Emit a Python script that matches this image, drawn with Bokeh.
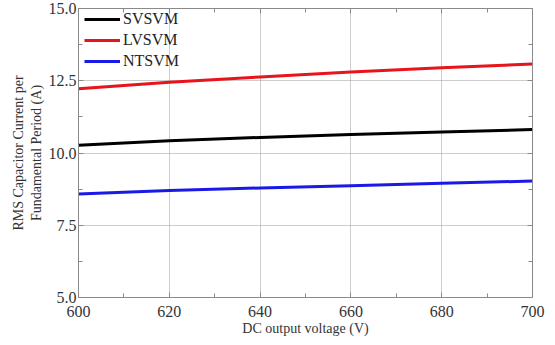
from bokeh.plotting import figure
from bokeh.models import (LinearAxis, FixedTicker, PrintfTickFormatter, Range1d, Legend,
                          LegendItem, CustomJSTickFormatter)
from bokeh.embed import file_html
from bokeh.resources import INLINE

voltage = [600, 620, 640, 660, 680, 700]
svsvm = [10.27, 10.42, 10.54, 10.64, 10.73, 10.81]
lvsvm = [12.22, 12.45, 12.63, 12.80, 12.95, 13.08]
ntsvm = [8.58, 8.70, 8.79, 8.87, 8.95, 9.03]

x_ticks = [600, 620, 640, 660, 680, 700]
x_minor = [610, 630, 650, 670, 690]
y_ticks = [5.0, 7.5, 10.0, 12.5, 15.0]
y_minor = [6.25, 8.75, 11.25, 13.75]

FONT = "Liberation Serif"
AX = "#8a8a8a"

p = figure(width=555, height=345, output_backend="svg", toolbar_location=None,
           x_range=Range1d(600, 700), y_range=Range1d(5, 15),
           min_border_left=78, min_border_right=23, min_border_top=8, min_border_bottom=48)
p.background_fill_color = "white"
p.border_fill_color = "white"
p.outline_line_color = AX

r1 = p.line(voltage, svsvm, color="black", line_width=3)
r2 = p.line(voltage, lvsvm, color="#e8141c", line_width=3)
r3 = p.line(voltage, ntsvm, color="#1a1ae6", line_width=3)

legend = Legend(items=[LegendItem(label="SVSVM", renderers=[r1]),
                       LegendItem(label="LVSVM", renderers=[r2]),
                       LegendItem(label="NTSVM", renderers=[r3])],
                location=(6, 226))
legend.border_line_color = None
legend.background_fill_alpha = 0
legend.label_text_font = FONT
legend.label_text_font_size = "16px"
legend.label_text_color = "#222222"
legend.glyph_width = 36
legend.label_standoff = 3
legend.spacing = 1
legend.padding = 0
legend.margin = 0
p.add_layout(legend)

xt = FixedTicker(ticks=x_ticks, minor_ticks=x_minor)
yt = FixedTicker(ticks=y_ticks, minor_ticks=y_minor)

bottom = p.xaxis[0]
left = p.yaxis[0]
bottom.ticker = xt
left.ticker = yt
left.formatter = PrintfTickFormatter(format="%.1f")
bottom.axis_label = "DC output voltage (V)"
left.axis_label = "RMS Capacitor Current per\nFundamental Period (A)"

blank = CustomJSTickFormatter(code="return ''")
top = LinearAxis(ticker=xt, formatter=blank)
right = LinearAxis(ticker=yt, formatter=blank)
p.add_layout(top, "above")
p.add_layout(right, "right")

for ax in [bottom, left, top, right]:
    ax.axis_line_color = AX
    ax.major_tick_line_color = AX
    ax.minor_tick_line_color = AX
    ax.major_tick_in = 5
    ax.major_tick_out = 0
    ax.minor_tick_in = 4
    ax.minor_tick_out = 0
    ax.major_label_text_font = FONT
    ax.axis_label_text_font = FONT
    ax.axis_label_text_font_style = "normal"
    ax.axis_label_text_font_size = "14px"
    ax.axis_label_standoff = 2
    ax.major_label_standoff = 2
    ax.major_label_text_color = "#333333"
    ax.axis_label_text_color = "#333333"
    ax.major_label_text_font_size = "16px"
bottom.major_label_standoff = 8
bottom.axis_label_standoff = 1
top.major_label_standoff = 0
right.major_label_standoff = 0

p.grid.grid_line_color = "#9a9a9a"
p.grid.grid_line_dash = "1 1"
p.grid.grid_line_width = 1

open("out.html", "w").write(file_html(p, INLINE))
